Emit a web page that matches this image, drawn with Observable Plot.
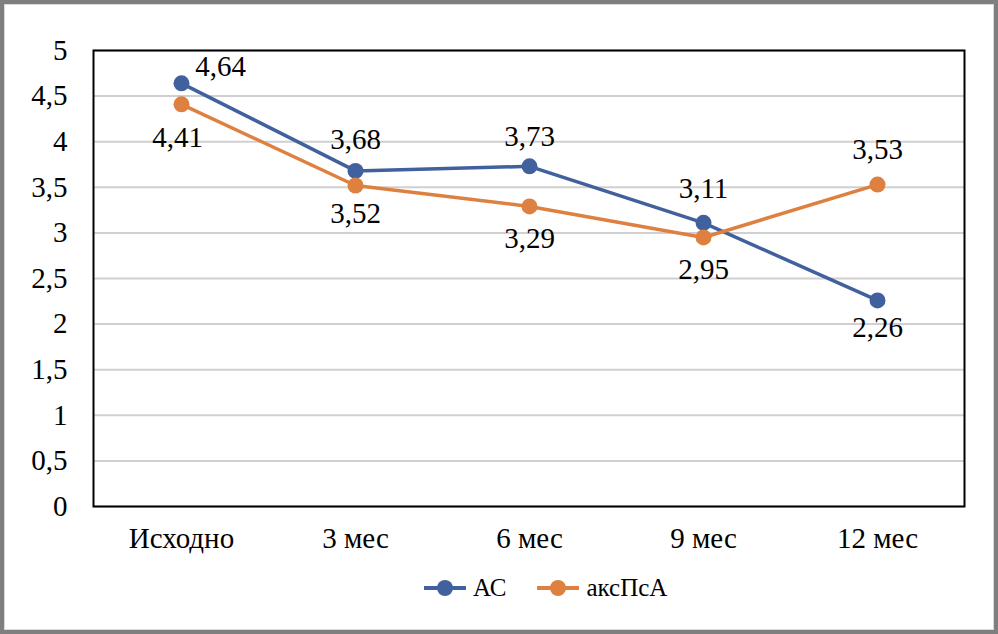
<!DOCTYPE html>
<html><head><meta charset="utf-8">
<script src="https://cdn.jsdelivr.net/npm/d3@7"></script>
<script src="https://cdn.jsdelivr.net/npm/@observablehq/plot@0.6"></script>
<style>
html,body{margin:0;padding:0;background:#fff;}
#outer{position:relative;width:998px;height:634px;box-sizing:border-box;border:4px solid #7f7f7f;}
#inner{position:absolute;left:0;top:0;right:0;bottom:0;border:1px solid #d9d9d9;}
#chart{position:absolute;left:0;top:0;}
#legend{position:absolute;left:419px;top:569px;display:flex;justify-content:flex-start;gap:31px;font-family:'Liberation Serif';font-size:25px;color:#000;}
.item{display:flex;align-items:center;gap:7px;}
</style></head>
<body>
<div id="outer"><div id="inner"><div id="chart"></div><div id="legend"></div></div></div>
<script>
const categories = ["Исходно", "3 мес", "6 мес", "9 мес", "12 мес"];
const seriesNames = ["АС", "аксПсА"];
const acValues = [4.64, 3.68, 3.73, 3.11, 2.26];
const axValues = [4.41, 3.52, 3.29, 2.95, 3.53];
const yTicks = [0, 0.5, 1, 1.5, 2, 2.5, 3, 3.5, 4, 4.5, 5];
const colors = ["#41609e", "#de803f"];

const fmt = v => String(v).replace(".", ",");
const rows = [];
categories.forEach((c, i) => {
  rows.push({cat: c, i, series: seriesNames[0], value: acValues[i]});
  rows.push({cat: c, i, series: seriesNames[1], value: axValues[i]});
});
const ac = rows.filter(d => d.series === seriesNames[0]);
const ax = rows.filter(d => d.series === seriesNames[1]);
// label placement
const acDx = [39, 0, 0, 0, 0];
const acDy = [-17, -31, -30, -34, 27];
const axDx = [-4, 0, 0, 0, 0];
const axDy = [33, 28, 32, 32, -35];

const FS = 29;
const labelMarks = [];
ac.forEach((d, k) => labelMarks.push(Plot.text([d], {x: "cat", y: "value", text: r => fmt(r.value), dx: acDx[k], dy: acDy[k], fontSize: FS, fill: "#000"})));
ax.forEach((d, k) => labelMarks.push(Plot.text([d], {x: "cat", y: "value", text: r => fmt(r.value), dx: axDx[k], dy: axDy[k], fontSize: FS, fill: "#000"})));

const plot = Plot.plot({
  width: 988,
  height: 555,
  marginLeft: 88,
  marginTop: 45,
  marginRight: 29,
  marginBottom: 54,
  style: {fontFamily: "Liberation Serif", fontSize: FS + "px", background: "transparent", color: "#000"},
  x: {type: "point", domain: categories, padding: 0.5, label: null},
  y: {domain: [0, 5], label: null},
  color: {domain: seriesNames, range: colors},
  marks: [
    Plot.ruleY(yTicks, {stroke: "#d0d0d0", strokeWidth: 2}),
    Plot.axisY({ticks: yTicks, tickFormat: fmt, tickSize: 0, tickPadding: 26, fontSize: FS, label: null}),
    Plot.axisX({tickSize: 0, tickPadding: 21, fontSize: FS, label: null}),
    Plot.frame({stroke: "#000", strokeWidth: 2}),
    Plot.line(rows, {x: "cat", y: "value", z: "series", stroke: "series", strokeWidth: 3.5}),
    Plot.dot(rows, {x: "cat", y: "value", fill: "series", r: 8}),
    ...labelMarks
  ]
});
plot.querySelectorAll("text").forEach(t => t.setAttribute("font-family", "Liberation Serif"));
document.getElementById("chart").appendChild(plot);

const legend = document.getElementById("legend");
seriesNames.forEach((s, i) => {
  const item = document.createElement("div");
  item.className = "item";
  item.innerHTML = `<svg width="42" height="20"><line x1="0" x2="42" y1="10" y2="10" stroke="${colors[i]}" stroke-width="4"/><circle cx="21" cy="10" r="8" fill="${colors[i]}"/></svg><span style="font-family:'Liberation Serif'">${s}</span>`;
  legend.appendChild(item);
});
</script>
</body></html>
